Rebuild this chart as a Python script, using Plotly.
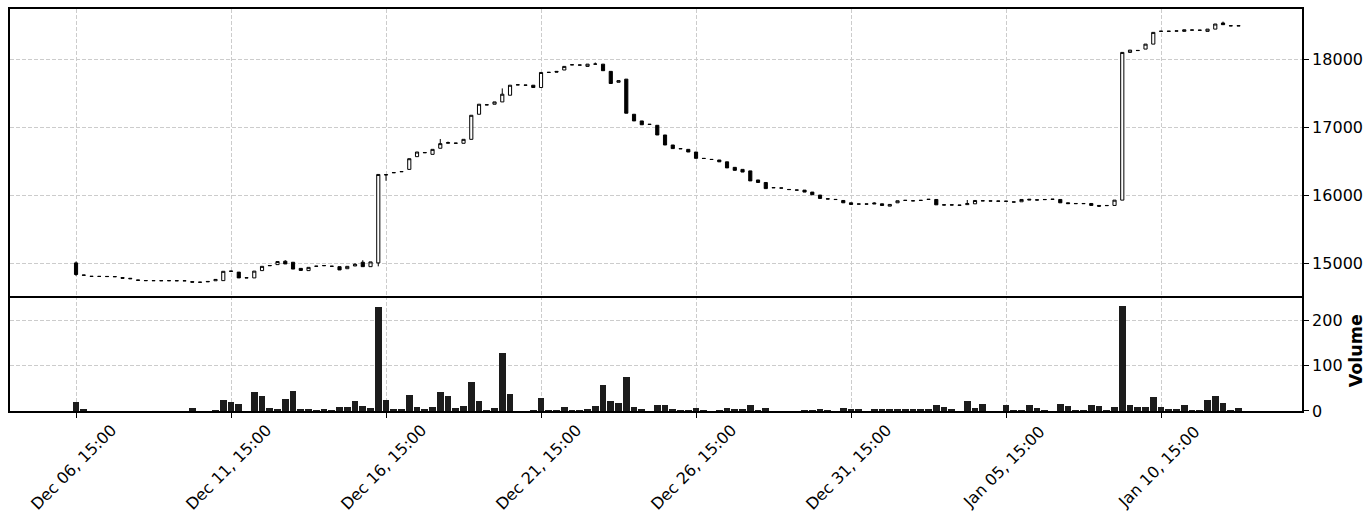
import pandas as pd
import plotly.graph_objects as go

start = pd.Timestamp("2023-12-06 15:00")
n = 151
dates = pd.date_range(start, periods=n, freq="6h")

opens = [15010, 14832, 14814, 14812, 14812, 14810, 14795, 14785, 14760, 14752,
         14750, 14750, 14749, 14750, 14748, 14735, 14728, 14732, 14748, 14750,
         14885, 14875, 14790, 14790, 14897, 14968, 14985, 15035, 15020, 14930,
         14897, 14960, 14970, 14960, 14955, 14925, 14965, 15020, 14955, 15010,
         16300, 16333, 16348, 16382, 16569, 16630, 16603, 16692, 16765, 16765,
         16765, 16823, 17191, 17328, 17338, 17372, 17470, 17622, 17617, 17617,
         17583, 17804, 17820, 17840, 17916, 17912, 17893, 17926, 17926, 17820,
         17660, 17706, 17191, 17093, 17044, 17029, 16887, 16740, 16687, 16676,
         16637, 16544, 16529, 16520, 16493, 16412, 16382, 16360, 16227, 16190,
         16115, 16110, 16088, 16080, 16078, 16049, 16005, 15950, 15942, 15926,
         15892, 15875, 15875, 15890, 15877, 15843, 15892, 15926, 15920, 15926,
         15941, 15941, 15862, 15862, 15858, 15865, 15877, 15920, 15920, 15918,
         15916, 15905, 15907, 15945, 15935, 15941, 15945, 15941, 15892, 15882,
         15882, 15882, 15853, 15853, 15853, 15931, 18098, 18125, 18147, 18220,
         18407, 18407, 18411, 18407, 18425, 18425, 18407, 18440, 18530, 18490,
         18490]

closes = [14840, 14830, 14812, 14812, 14810, 14808, 14785, 14778, 14755, 14750,
          14750, 14749, 14750, 14748, 14748, 14728, 14726, 14738, 14768, 14887,
          14890, 14790, 14792, 14890, 14960, 14972, 15030, 14995, 14920, 14900,
          14945, 14962, 14971, 14961, 14907, 14960, 14990, 14955, 15025, 16308,
          16305, 16335, 16350, 16539, 16637, 16627, 16676, 16760, 16775, 16767,
          16823, 17176, 17338, 17330, 17372, 17485, 17617, 17623, 17618, 17583,
          17804, 17806, 17810, 17893, 17917, 17913, 17926, 17927, 17830, 17642,
          17684, 17206, 17093, 17037, 17042, 16887, 16740, 16687, 16685, 16637,
          16544, 16542, 16527, 16493, 16404, 16368, 16343, 16213, 16190, 16100,
          16113, 16108, 16086, 16078, 16049, 16010, 15956, 15948, 15940, 15892,
          15868, 15873, 15873, 15877, 15853, 15868, 15922, 15928, 15922, 15928,
          15943, 15862, 15860, 15860, 15856, 15880, 15926, 15922, 15918, 15916,
          15914, 15903, 15941, 15935, 15933, 15939, 15943, 15892, 15880, 15880,
          15880, 15853, 15843, 15851, 15931, 18098, 18132, 18127, 18220, 18392,
          18409, 18409, 18413, 18430, 18427, 18423, 18440, 18515, 18505, 18488,
          18488]

highs = [max(o, c) for o, c in zip(opens, closes)]
lows = [min(o, c) for o, c in zip(opens, closes)]
# visible wicks
high_wicks = {0: 15030, 27: 15050, 36: 15005, 37: 15050, 47: 16828, 48: 16790,
              55: 17570, 67: 17950, 103: 15900, 115: 15933, 148: 18550}
low_wicks = {0: 14820, 39: 14960, 40: 16215, 132: 15830}
for k, v in high_wicks.items():
    highs[k] = v
for k, v in low_wicks.items():
    lows[k] = v

volumes = [21.5, 4, 0, 0, 0, 0, 0, 0, 0, 0,
           0, 0, 0, 0, 0, 8, 0, 0, 2, 26,
           20, 15.5, 0, 43, 34, 8, 6, 28, 44, 6,
           6, 2, 6, 2, 10, 10, 22, 12.6, 8, 230,
           24, 4, 4, 37, 10, 6, 10, 43, 34, 8,
           11, 64, 22, 1, 8, 128, 39, 0.5, 0.5, 3,
           30, 1, 1, 10, 3, 1, 5, 12, 59, 22,
           19, 76, 10, 5, 0.5, 15, 15, 4, 1, 3,
           7, 1, 0, 3, 7, 5, 5, 15, 2, 7,
           0, 0, 0, 0, 2, 2, 5, 2, 0, 8,
           6, 6, 0, 6, 6, 6, 6, 6, 6, 6,
           6, 15, 10, 6, 0, 22, 8, 17, 0, 0,
           15, 1, 1, 15, 8, 2, 0, 17, 12, 3,
           3, 15, 12, 3, 10, 232, 15, 10, 10, 32,
           10, 5, 5, 15, 2, 3, 24, 34, 19, 3,
           8]

price_ticks = [15000, 16000, 17000, 18000]
volume_ticks = [0, 100, 200]
tick_dates = [start + pd.Timedelta(days=5 * i) for i in range(8)]
tick_text = [d.strftime("%b %d, %H:%M") for d in tick_dates]

step = pd.Timedelta(hours=6)
x_range = [start - step * 8.52, start + step * 158.19]

FONT = "DejaVu Sans"
FS = 16
GRID = "#cccccc"
GDASH = "4px,2px"

fig = go.Figure()
fig.add_trace(go.Candlestick(
    x=dates, open=opens, high=highs, low=lows, close=closes,
    xaxis="x2", yaxis="y",
    increasing=dict(fillcolor="white", line=dict(color="black", width=1)),
    decreasing=dict(fillcolor="black", line=dict(color="black", width=1)),
    whiskerwidth=0, showlegend=False,
))
fig.add_trace(go.Bar(
    x=dates, y=volumes, xaxis="x", yaxis="y2",
    marker=dict(color="#1c1c1c", line=dict(width=0)),
    width=step.total_seconds() * 1000 * 0.88, showlegend=False,
))

dom = 0.2868
LW = 1.8
common = dict(showline=True, linecolor="black", linewidth=LW,
              showgrid=True, gridcolor=GRID, griddash=GDASH, gridwidth=1,
              zeroline=False, automargin=False)

# rotated date labels centred under their ticks (matplotlib style)
annotations = [dict(text=t, x=d, xref="x", y=0, yref="paper", yshift=-56,
                    xshift=-3, textangle=-45, showarrow=False,
                    xanchor="center", yanchor="middle",
                    font=dict(size=FS, family=FONT, color="black"))
               for d, t in zip(tick_dates, tick_text)]
annotations.append(dict(text="<b>Volume</b>", xref="paper", yref="paper",
                        x=1.0, xshift=54, y=dom / 2 + 0.005, textangle=-90,
                        showarrow=False, xanchor="center", yanchor="middle",
                        font=dict(size=17.5, family=FONT, color="black")))

fig.update_layout(
    width=1365, height=514,
    margin=dict(l=10, r=63, t=9, b=103, autoexpand=False),
    paper_bgcolor="white", plot_bgcolor="white",
    font=dict(family=FONT, size=FS, color="black"),
    boxgap=0.42,
    bargap=0,
    xaxis=dict(domain=[0, 1], anchor="y2", type="date", range=x_range,
               tickmode="array", tickvals=tick_dates, showticklabels=False,
               ticks="outside", ticklen=5, tickcolor="black", mirror=False,
               rangeslider=dict(visible=False), **common),
    xaxis2=dict(domain=[0, 1], anchor="y", type="date", matches="x",
                tickmode="array", tickvals=tick_dates, showticklabels=False,
                ticks="", mirror=True, rangeslider=dict(visible=False), **common),
    yaxis=dict(domain=[dom, 1], anchor="x2", side="right", range=[14529, 18735],
               tickmode="array", tickvals=price_ticks,
               ticktext=[str(v) for v in price_ticks], mirror=True,
               ticks="outside", ticklen=5, tickcolor="black", **common),
    yaxis2=dict(domain=[0, dom], anchor="x", side="right", range=[0, 255],
                tickmode="array", tickvals=volume_ticks,
                ticktext=[str(v) for v in volume_ticks], mirror=True,
                ticks="outside", ticklen=5, tickcolor="black", **common),
    annotations=annotations,
)

fig.write_html("out.html",
               config={"displayModeBar": False},
               post_script="document.body.style.margin='0px';"
                           "document.body.style.overflow='hidden';")
